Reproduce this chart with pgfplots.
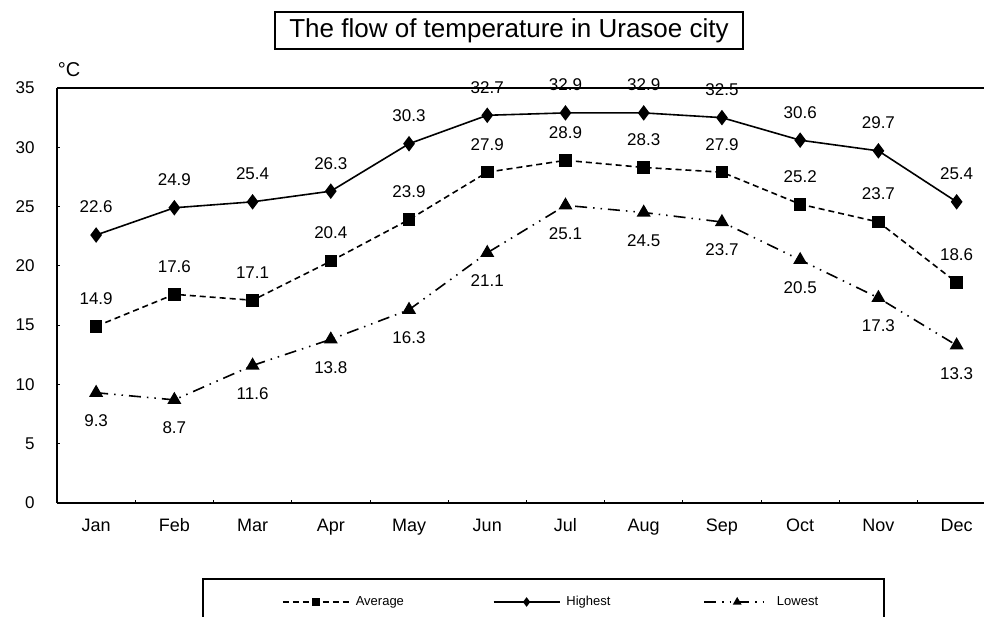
\documentclass[border=0pt]{standalone}
\usepackage{fontspec}
\setmainfont{Liberation Sans}
\usepackage{pgfplots}
\pgfplotsset{compat=1.18}
\begin{document}
\begin{tikzpicture}
\useasboundingbox (0pt,0pt) rectangle (984pt,-616pt);
\node[draw, line width=1.2pt, minimum width=468pt, minimum height=37pt, inner sep=0pt, font=\fontsize{26}{30}\selectfont] at (509pt,-30.5pt) {The flow of temperature in Urasoe city};
\node[font=\fontsize{20}{24}\selectfont] at (69pt,-70pt) {°C};
\begin{axis}[
  at={(57pt,-503pt)}, anchor=south west, scale only axis,
  width=927pt, height=415pt,
  xmin=-0.5, xmax=11.35, ymin=0, ymax=35,
  axis x line*=bottom, axis y line*=left,
  axis line style={-, line width=2.5pt},
  clip=false,
  tick align=inside,
  major tick length=3pt,
  tick style={line width=0.8pt, black},
  xtick={0.5,1.5,...,10.5}, xticklabels={},
  extra x ticks={0,1,2,3,4,5,6,7,8,9,10,11},
  extra x tick labels={Jan,Feb,Mar,Apr,May,Jun,Jul,Aug,Sep,Oct,Nov,Dec},
  extra x tick style={major tick length=0pt},
  ytick={0,5,...,35},
  /pgf/number format/assume math mode=true,
  xticklabel style={font=\fontsize{18}{20}\selectfont, text height=13pt, text depth=4pt, yshift=-12pt},
  yticklabel style={font=\fontsize{17}{20}\selectfont, xshift=-19pt},
  nodes near coords={\pgfmathprintnumber[fixed,fixed zerofill,precision=1]{\pgfplotspointmeta}},
  point meta=y,
  every node near coord/.append style={font=\fontsize{17}{20}\selectfont, anchor=center, yshift=28pt},
  legend style={at={(0.2427,-0.2386)}, anchor=west, draw=none, fill=none, inner sep=0pt,
    font=\fontsize{13}{15}\selectfont, nodes={inner sep=0pt},
    /tikz/every odd column/.append style={column sep=6pt},
    /tikz/every even column/.append style={column sep=5pt}},
  legend columns=3,
  legend cell align=left,
  legend image code/.code={\draw[mark repeat=2,mark phase=2,#1,mark size=3.5pt] plot coordinates {(0pt,0pt) (33pt,0pt) (66pt,0pt)};},
]
\draw[line width=1.5pt] (rel axis cs:0,1) -- (rel axis cs:1,1);
\addplot[black, line width=1.6pt, dash pattern=on 6pt off 4pt, mark=square*, mark size=5.5pt, mark options={solid}]
  coordinates {(0,14.9)(1,17.6)(2,17.1)(3,20.4)(4,23.9)(5,27.9)(6,28.9)(7,28.3)(8,27.9)(9,25.2)(10,23.7)(11,18.6)};
\addlegendentry{\makebox[132pt][l]{Average}}
\addplot[black, line width=1.6pt, mark=diamond*, mark size=6.5pt, mark options={solid}]
  coordinates {(0,22.6)(1,24.9)(2,25.4)(3,26.3)(4,30.3)(5,32.7)(6,32.9)(7,32.9)(8,32.5)(9,30.6)(10,29.7)(11,25.4)};
\addlegendentry{\makebox[132pt][l]{Highest}}
\addplot[black, line width=1.6pt, dash pattern=on 12pt off 6pt on 1.5pt off 6pt on 1.5pt off 6pt, mark=triangle*, mark size=6.5pt, mark options={solid},
  every node near coord/.append style={yshift=-56pt}]
  coordinates {(0,9.3)(1,8.7)(2,11.6)(3,13.8)(4,16.3)(5,21.1)(6,25.1)(7,24.5)(8,23.7)(9,20.5)(10,17.3)(11,13.3)};
\addlegendentry{\makebox[60pt][l]{Lowest}}
\end{axis}
\draw[line width=1.5pt] (203pt,-579pt) rectangle (884pt,-625pt);
\end{tikzpicture}
\end{document}
